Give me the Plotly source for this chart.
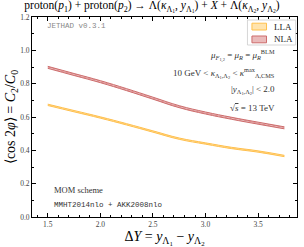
import plotly.graph_objects as go

delta_y = [1.5, 1.75, 2.0, 2.25, 2.5, 2.75, 3.0, 3.25, 3.5, 3.75]
nla = [0.898, 0.855, 0.812, 0.764, 0.713, 0.662, 0.624, 0.592, 0.563, 0.535]
lla = [0.673, 0.635, 0.597, 0.556, 0.513, 0.470, 0.441, 0.414, 0.393, 0.366]
nla_err = [0.006] * len(delta_y)
lla_err = [0.004] * len(delta_y)

series_names = ["LLA", "NLA"]
x_ticks = [1.5, 2.0, 2.5, 3.0, 3.5]
y_ticks = [0.0, 0.2, 0.4, 0.6, 0.8, 1.0, 1.2]

SERIF = "Liberation Serif"
MONO = "Liberation Mono"

LLA_LINE, LLA_FILL = "#ffc04d", "rgba(255,210,120,0.6)"
NLA_LINE, NLA_FILL = "#cd6c6c", "rgba(220,140,140,0.6)"

fig = go.Figure()

def band(x, y, err, color, fillc, name):
    up = [v + e for v, e in zip(y, err)]
    lo = [v - e for v, e in zip(y, err)]
    fig.add_trace(go.Scatter(x=x, y=up, mode="lines", line=dict(color=color, width=1, shape="spline", smoothing=1.2),
                             showlegend=False, hoverinfo="skip"))
    fig.add_trace(go.Scatter(x=x, y=lo, mode="lines", line=dict(color=color, width=1, shape="spline", smoothing=1.2),
                             fill="tonexty", fillcolor=fillc,
                             fillpattern=dict(shape="/", fgcolor=color, bgcolor=fillc, size=4, solidity=0.4),
                             name=name, showlegend=False))

band(delta_y, lla, lla_err, LLA_LINE, LLA_FILL, series_names[0])
band(delta_y, nla, nla_err, NLA_LINE, NLA_FILL, series_names[1])

fig.update_layout(
    width=304, height=247,
    margin=dict(l=32, r=7, t=17, b=30),
    paper_bgcolor="white", plot_bgcolor="white",
    font=dict(family=SERIF, color="black", size=9),
    title=dict(text="proton(<i>p</i><sub>1</sub>) + proton(<i>p</i><sub>2</sub>) → Λ(<i>κ</i><sub>Λ<sub>1</sub></sub>, <i>y</i><sub>Λ<sub>1</sub></sub>) + <i>X</i> + Λ(<i>κ</i><sub>Λ<sub>2</sub></sub>, <i>y</i><sub>Λ<sub>2</sub></sub>)",
               x=0.5, xanchor="center", y=0.995, yanchor="top", font=dict(size=11.5, family=SERIF)),
    showlegend=False,
    xaxis=dict(range=[1.35, 3.87], tickvals=x_ticks, ticktext=[f"{v:.1f}" for v in x_ticks],
               ticks="inside", ticklen=4, tickwidth=1, tickcolor="black", mirror="allticks",
               showline=True, linecolor="black", linewidth=1, showgrid=False, zeroline=False,
               tickfont=dict(size=7.5, family=SERIF, color="#444"),
               minor=dict(ticks="inside", ticklen=2, dtick=0.1, tickcolor="black", showgrid=False),
               title=dict(text="Δ<i>Y</i> = <i>y</i><sub>Λ<sub>1</sub></sub> − <i>y</i><sub>Λ<sub>2</sub></sub>",
                          font=dict(size=14, family=SERIF), standoff=2)),
    yaxis=dict(range=[0.0, 1.2], tickvals=y_ticks, ticktext=[f"{v:.1f}" for v in y_ticks],
               ticks="inside", ticklen=4, tickwidth=1, tickcolor="black", mirror="allticks",
               showline=True, linecolor="black", linewidth=1, showgrid=False, zeroline=False,
               tickfont=dict(size=7.5, family=SERIF, color="#444"),
               minor=dict(ticks="inside", ticklen=2, dtick=0.1, tickcolor="black", showgrid=False),
               title=dict(text="⟨cos 2<i>φ</i>⟩ = <i>C</i><sub>2</sub>/<i>C</i><sub>0</sub>",
                          font=dict(size=14, family=SERIF), standoff=0)),
)

# legend drawn manually (compact, like the reference)
fig.add_shape(type="rect", xref="paper", yref="paper", x0=0.813, x1=0.995, y0=0.86, y1=0.985,
              line=dict(color="#cccccc", width=0.8), fillcolor="white", layer="above")
legend_rows = [(series_names[0], LLA_LINE, LLA_FILL, 0.952), (series_names[1], NLA_LINE, NLA_FILL, 0.888)]
for name, lc, fc, yy in legend_rows:
    fig.add_shape(type="rect", xref="paper", yref="paper", x0=0.83, x1=0.885, y0=yy - 0.017, y1=yy + 0.017,
                  line=dict(color=lc, width=1), fillcolor=fc, layer="above")
    fig.add_annotation(x=0.905, y=yy, xref="paper", yref="paper", text=name, showarrow=False,
                       xanchor="left", yanchor="middle", font=dict(size=9, family=SERIF, color="#222"))

notes = [
    ("<i>μ</i><sub><i>F</i><sub>1,2</sub></sub> = <i>μ</i><sub><i>R</i></sub> = <i>μ</i><sub><i>R</i></sub><sup>BLM</sup>", 0.805),
    ("10 GeV < <i>κ</i><sub>Λ<sub>1</sub>,Λ<sub>2</sub></sub> < <i>κ</i><sup>max</sup><sub>Λ,CMS</sub>", 0.72),
    ("|<i>y</i><sub>Λ<sub>1</sub>,Λ<sub>2</sub></sub>| < 2.0", 0.635),
    ("√<span style='text-decoration:overline'><i>s</i></span> = 13 TeV", 0.545),
]
for txt, yy in notes:
    fig.add_annotation(x=0.925, y=yy, xref="paper", yref="paper", text=txt, showarrow=False,
                       xanchor="right", yanchor="middle", font=dict(size=9, family=SERIF, color="#333"))

fig.add_annotation(x=0.05, y=0.955, xref="paper", yref="paper", text="JETHAD v0.3.1", showarrow=False,
                   xanchor="left", yanchor="middle", font=dict(size=7.5, family=MONO, color="#888"))
fig.add_annotation(x=0.075, y=0.135, xref="paper", yref="paper", text="MOM scheme", showarrow=False,
                   xanchor="left", yanchor="middle", font=dict(size=8.5, family=SERIF, color="#333"))
fig.add_annotation(x=0.075, y=0.06, xref="paper", yref="paper", text="MMHT2014nlo + AKK2008nlo", showarrow=False,
                   xanchor="left", yanchor="middle", font=dict(size=7.5, family=MONO, color="#333"))

fig.write_html("out.html", config={"displayModeBar": False},
               post_script="document.body.style.margin='0';")
